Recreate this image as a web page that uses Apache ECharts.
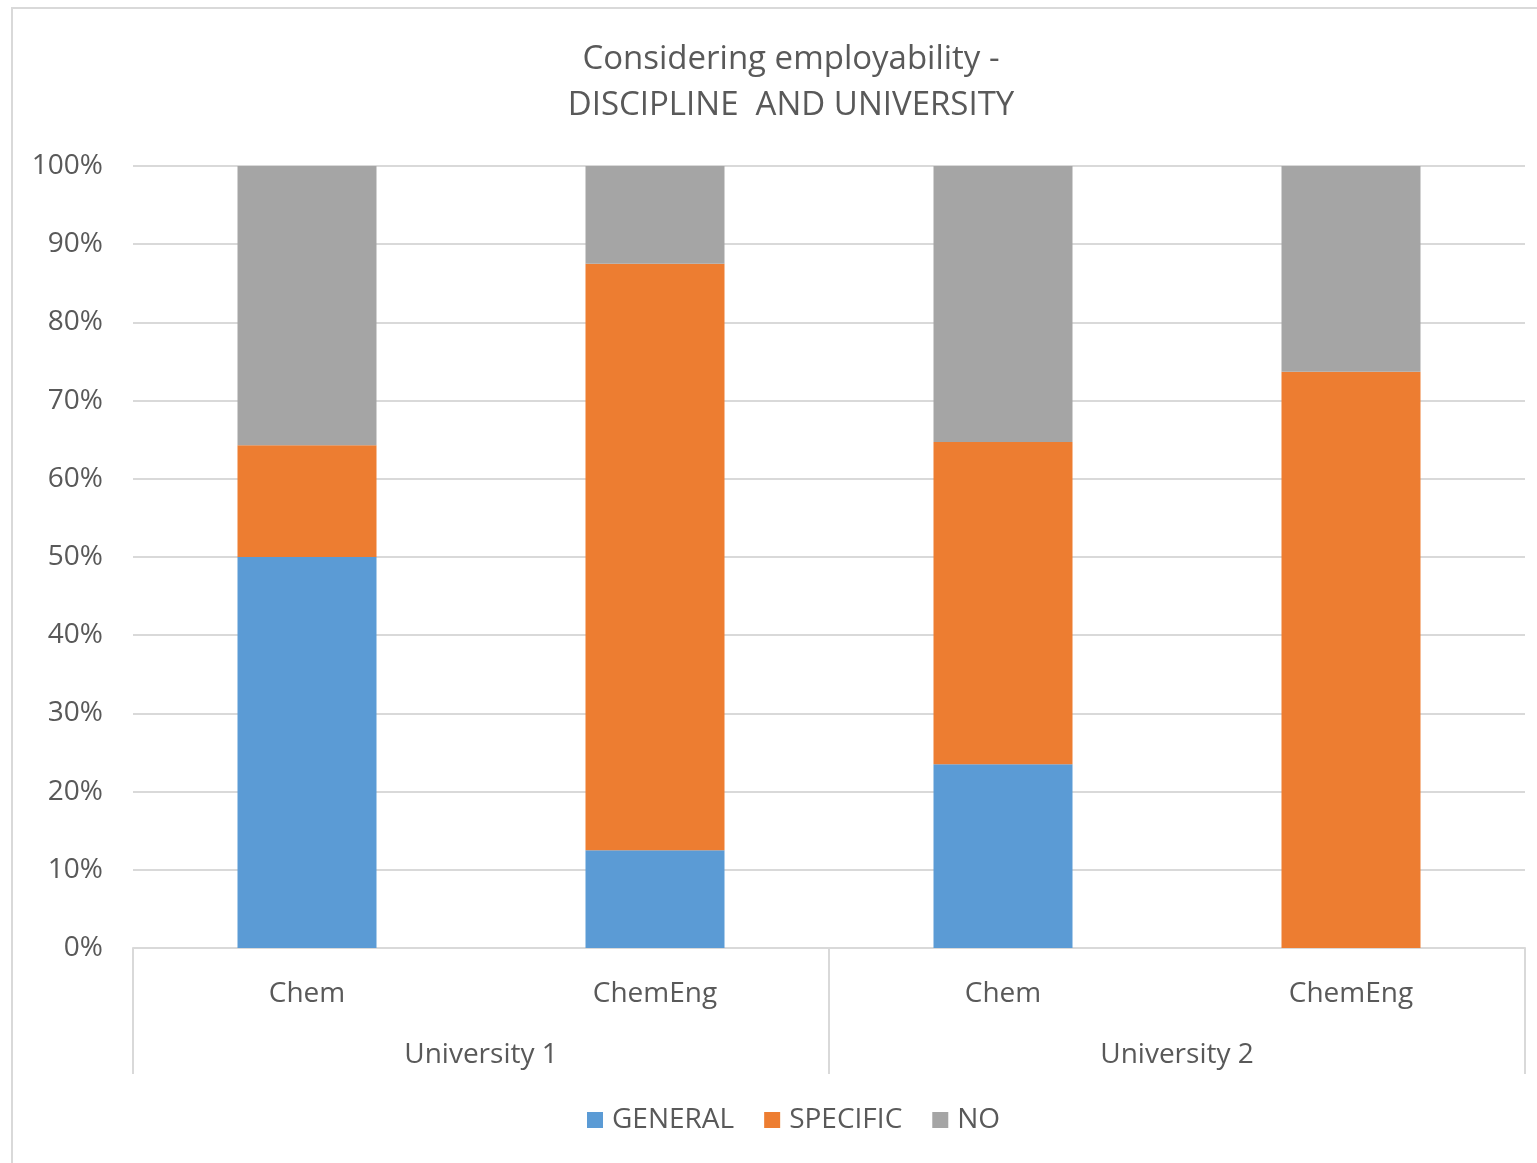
<!DOCTYPE html>
<html>
<head>
<meta charset="utf-8">
<title>Considering employability</title>
<script src="https://cdn.jsdelivr.net/npm/echarts@6/dist/echarts.min.js"></script>
<style>
  html, body { margin: 0; padding: 0; background: #ffffff; }
  #chart { width: 1537px; height: 1163px; }
</style>
</head>
<body>
<div id="chart"></div>
<script>
// Discipline within each university (inner axis level)
const disciplines = ['Chem', 'ChemEng', 'Chem', 'ChemEng'];
// University groups (outer axis level)
const universities = ['University 1', 'University 2'];
// Share of responses per category, in percent
const general  = [50.0, 12.5, 23.5, 0.0];
const specific = [14.3, 75.0, 41.2, 73.7];
const no       = [35.7, 12.5, 35.3, 26.3];
// Value axis ticks
const yMin = 0, yMax = 100, yStep = 10;

const FONT = '"Open Sans", "Noto Sans", sans-serif';
const TEXT = '#595959';
const LINE = '#D9D9D9';

const chart = echarts.init(document.getElementById('chart'), null, { renderer: 'canvas' });

chart.setOption({
  backgroundColor: '#ffffff',
  animation: false,
  textStyle: { fontFamily: FONT, color: TEXT },
  title: {
    text: 'Considering employability -\nDISCIPLINE  AND UNIVERSITY',
    left: 786,
    textAlign: 'center',
    top: 32,
    textStyle: { fontFamily: FONT, fontSize: 33, fontWeight: 'normal', color: TEXT, lineHeight: 46 }
  },
  graphic: [{
    type: 'rect',
    silent: true,
    shape: { x: 12, y: 8, width: 1700, height: 1400 },
    style: { fill: 'none', stroke: LINE, lineWidth: 2 }
  }],
  legend: {
    left: 587,
    top: 1106,
    padding: 0,
    icon: 'rect',
    itemWidth: 16,
    itemHeight: 16,
    itemGap: 30,
    textStyle: { fontFamily: FONT, fontSize: 28, color: TEXT, padding: [0, 0, 0, 4] },
    data: ['GENERAL', 'SPECIFIC', 'NO']
  },
  grid: { left: 133, right: 12, top: 166, bottom: 215, containLabel: false },
  xAxis: [{
    type: 'category',
    data: disciplines,
    position: 'bottom',
    axisLine: { show: true, lineStyle: { color: LINE, width: 2 } },
    axisTick: { show: false },
    axisLabel: { fontFamily: FONT, fontSize: 28, color: TEXT, margin: 32 }
  }, {
    type: 'category',
    data: universities,
    position: 'bottom',
    axisLine: { show: false },
    axisTick: { show: true, length: 126, interval: 0, lineStyle: { color: LINE, width: 2 } },
    axisLabel: { fontFamily: FONT, fontSize: 28, color: TEXT, margin: 93 }
  }],
  yAxis: {
    type: 'value',
    min: yMin,
    max: yMax,
    interval: yStep,
    axisLine: { show: false },
    axisTick: { show: false },
    splitLine: { lineStyle: { color: LINE, width: 2 } },
    axisLabel: { formatter: '{value}%', fontFamily: FONT, fontSize: 28, color: TEXT, margin: 30 }
  },
  series: [
    { name: 'GENERAL',  type: 'bar', stack: 'share', xAxisIndex: 0, barWidth: 139, data: general,  itemStyle: { color: '#5B9BD5' } },
    { name: 'SPECIFIC', type: 'bar', stack: 'share', xAxisIndex: 0, barWidth: 139, data: specific, itemStyle: { color: '#ED7D31' } },
    { name: 'NO',       type: 'bar', stack: 'share', xAxisIndex: 0, barWidth: 139, data: no,       itemStyle: { color: '#A5A5A5' } }
  ]
});
</script>
</body>
</html>
